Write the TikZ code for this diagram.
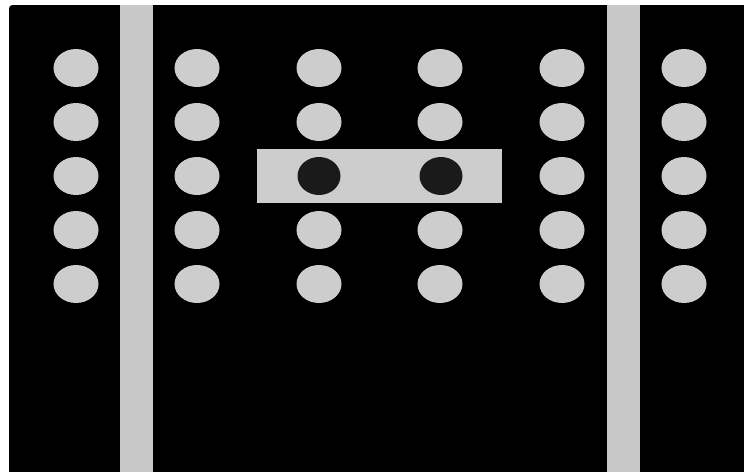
\documentclass[tikz,border=0pt]{standalone}
\usetikzlibrary{calc}
\definecolor{dotgray}{RGB}{205,205,205}
\definecolor{bargray}{RGB}{200,200,200}
\definecolor{dotdark}{RGB}{26,26,26}
\tikzset{
    lightdot/.style={fill=dotgray},
    darkdot/.style={fill=dotdark},
    lane/.style={fill=bargray}
}

\begin{document}
\begin{tikzpicture}[
    x=0.03cm,
    y=-0.03cm
]

% --- Rahmen ---
\useasboundingbox (0,0) rectangle (744,472);
\fill[white] (0,0) rectangle (744,472);
\fill[black] (9,472) [rounded corners=3pt] -- (9,5) [sharp corners] -- (744,5) -- (744,472) -- cycle;

% --- senkrechte Streifen ---
\fill[lane] (120,5) rectangle (153,472);
\fill[lane] (607,5) rectangle (640,472);

% --- Punkte ---
\foreach \x in {76,197,319,440,562,684} {
    \foreach \y in {68,122,176,230,284} {
        \fill[lightdot] (\x,\y) ellipse (22.5 and 19);
    }
}

% --- markierte Zeile ---
\coordinate (P) at (319,176);
\coordinate (Q) at (441,176);
\fill[dotgray] (257,149) rectangle (502,203);
\fill[darkdot] (P) ellipse (21.5 and 19);
\fill[darkdot] (Q) ellipse (21.5 and 19);

\end{tikzpicture}
\end{document}
